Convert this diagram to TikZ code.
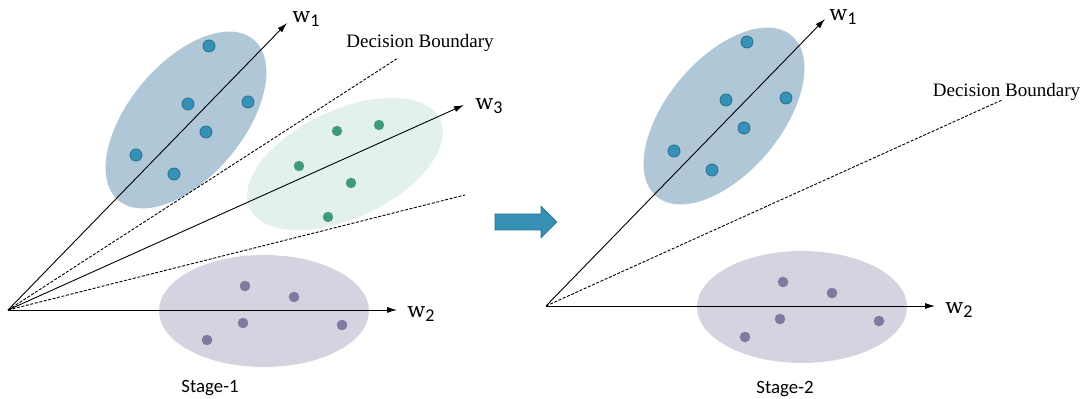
\documentclass[tikz,border=0pt]{standalone}
\usepackage{fontspec}
\setmainfont{Liberation Serif}
\newfontfamily\calibri{Carlito}
\newfontfamily\wfont{DejaVu Serif}
\usetikzlibrary{arrows.meta}
\definecolor{clblue}{HTML}{B0C7D8}
\definecolor{clgreen}{HTML}{E3F1EC}
\definecolor{clpurple}{HTML}{D5D3DF}
\definecolor{ptblue}{HTML}{3592B6}
\definecolor{ptblueedge}{HTML}{236F8F}
\definecolor{ptgreen}{HTML}{3F9A7B}
\definecolor{ptpurple}{HTML}{7F7BA0}
\definecolor{stagearrow}{HTML}{3590B4}
\newcommand{\wsub}[1]{{\wfont w}\raisebox{-2.2pt}{\calibri\fontsize{9}{9}\selectfont #1}}
\tikzset{
  axis/.style    ={-{Latex[length=5pt,width=3pt]}, line width=0.45pt, draw=black},
  bnd/.style     ={line width=0.45pt, draw=black, dash pattern=on 1.5pt off 0.8pt},
  axlbl/.style   ={font=\fontsize{10.5}{11}\selectfont, inner sep=0pt},
  bndlbl/.style  ={font=\fontsize{9.5}{11}\selectfont, inner sep=0pt},
  stglbl/.style  ={font=\calibri\fontsize{9.4}{10}\selectfont, inner sep=0pt},
  bdot/.style    ={fill=ptblue, draw=ptblueedge, line width=0.4pt},
  gdot/.style    ={fill=ptgreen},
  pdot/.style    ={fill=ptpurple}
}

\begin{document}
\begin{tikzpicture}[x=0.5pt, y=-0.5pt]
  \useasboundingbox (0,0) rectangle (1087,399);
  % stage 1
  \fill[clblue, rotate around={50:(186,120)}] (186,120) ellipse [x radius=105, y radius=57];
  \fill[clgreen, rotate around={25:(345,164)}] (345,164) ellipse [x radius=105, y radius=54];
  \fill[clpurple] (264,311) ellipse [x radius=105, y radius=56];
  \coordinate (oA) at (8,310);
  \coordinate (wA1) at (287,23);
  \coordinate (wA2) at (397,310);
  \coordinate (wA3) at (464,105);
  \coordinate (dA1) at (398,58);
  \coordinate (dA2) at (465,195);
  \draw[axis] (oA) -- (wA1);
  \draw[axis] (oA) -- (wA2);
  \draw[axis] (oA) -- (wA3);
  \draw[bnd] (oA) -- (dA1);
  \draw[bnd] (oA) -- (dA2);
  \foreach \x/\y in {209/46,188/104,248/102,206/132,136/155,174/174}
    \draw[bdot] (\x,\y) circle [radius=6];
  \foreach \x/\y in {337/131,379/125,299/166,351/183,328/217}
    \fill[gdot] (\x,\y) circle [radius=5.2];
  \foreach \x/\y in {245/286,294/297,243/323,342/325,207/340}
    \fill[pdot] (\x,\y) circle [radius=5.3];
  \node[axlbl] (lwA1) at (306,19) {\wsub{1}};
  \node[axlbl] (lwA2) at (421,314) {\wsub{2}};
  \node[axlbl] (lwA3) at (489,106) {\wsub{3}};
  \node[bndlbl] (bA) at (420,43) {Decision Boundary};
  \node[stglbl] (sA) at (210,388) {Stage-1};

  % arrow between stages
  \filldraw[fill=stagearrow, draw=stagearrow!80!black, line width=0.3pt]
    (495,214) -- (541,214) -- (541,206) -- (557,222) -- (541,238) -- (541,230) -- (495,230) -- cycle;

  % stage 2
  \begin{scope}[shift={(538,-4)}]
    \fill[clblue, rotate around={50:(186,120)}] (186,120) ellipse [x radius=105, y radius=57];
    \fill[clpurple] (264,311) ellipse [x radius=105, y radius=56];
    \coordinate (oB) at (8,310);
    \coordinate (wB1) at (287,23);
    \coordinate (wB2) at (397,310);
    \coordinate (dB1) at (464,104);
    \draw[axis] (oB) -- (wB1);
    \draw[axis] (oB) -- (wB2);
    \draw[bnd] (oB) -- (dB1);
    \foreach \x/\y in {209/46,188/104,248/102,206/132,136/155,174/174}
      \draw[bdot] (\x,\y) circle [radius=6];
    \foreach \x/\y in {245/286,294/297,242/323,341/325,207/341}
      \fill[pdot] (\x,\y) circle [radius=5.3];
    \node[axlbl] (lwB1) at (305,21) {\wsub{1}};
    \node[axlbl] (lwB2) at (421,314) {\wsub{2}};
    \node[bndlbl] (bB) at (468.5,96) {Decision Boundary};
    \node[stglbl] (sB) at (247,393) {Stage-2};
  \end{scope}
\end{tikzpicture}
\end{document}
